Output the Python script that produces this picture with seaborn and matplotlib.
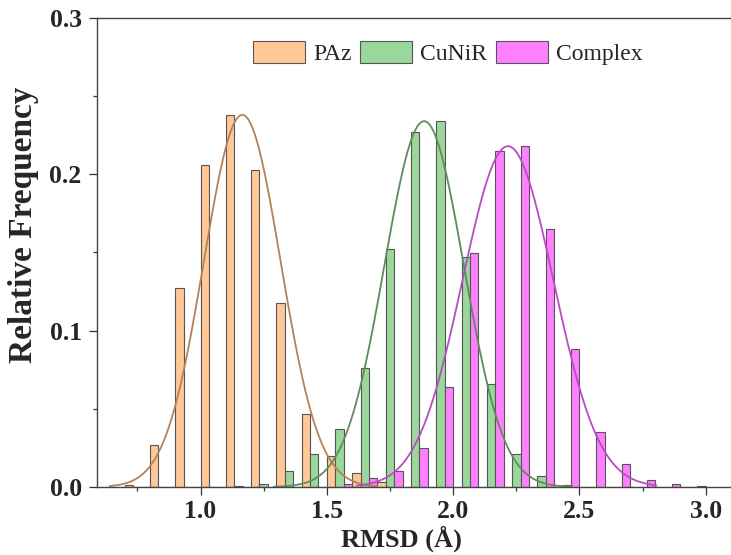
import matplotlib
matplotlib.use("Agg")
import matplotlib.pyplot as plt
from matplotlib.ticker import MultipleLocator, FormatStrFormatter
import numpy as np
import pandas as pd
import seaborn as sns

# bin left edges of the RMSD histogram (Å)
bin_left = [0.7, 0.8, 0.9, 1.0, 1.1, 1.2, 1.3, 1.4, 1.5, 1.6, 1.7, 1.8,
            1.9, 2.0, 2.1, 2.2, 2.3, 2.4, 2.5, 2.6, 2.7, 2.8, 2.9]

# relative frequencies per bin
paz = [0.001, 0.027, 0.127, 0.206, 0.238, 0.203, 0.118, 0.047, 0.020, 0.009, 0.003, 0.0,
       0.0, 0.0, 0.0, 0.0, 0.0, 0.0, 0.0, 0.0, 0.0, 0.0, 0.0]
cunir = [0.0, 0.0, 0.0, 0.0, 0.0005, 0.002, 0.010, 0.021, 0.037, 0.076, 0.152, 0.227,
         0.234, 0.147, 0.066, 0.021, 0.007, 0.001, 0.0, 0.0, 0.0, 0.0, 0.0]
complex_ = [0.0, 0.0, 0.0, 0.0, 0.0, 0.0, 0.0, 0.0, 0.002, 0.006, 0.010, 0.025,
            0.064, 0.150, 0.215, 0.218, 0.165, 0.088, 0.035, 0.015, 0.0045, 0.0017, 0.0005]

names = ["PAz", "CuNiR", "Complex"]

# gaussian fits (amplitude, centre, sigma) and the x-range each fit is drawn over
fit_amp = [0.238, 0.234, 0.218]
fit_center = [1.165, 1.885, 2.217]
fit_sigma = [0.152, 0.157, 0.180]
fit_start = [0.64, 1.29, 1.617]
fit_end = [1.70, 2.47, 2.805]

bar_colors = ["#FFC896", "#9BD79B", "#FF80FF"]
line_colors = ["#B4825A", "#5E8C5E", "#B84CC4"]

sns.set_theme(style="ticks")
plt.rcParams["font.family"] = ["Liberation Serif", "DejaVu Serif"]

hist = pd.DataFrame({
    "x": np.round(np.tile(np.array(bin_left) + 0.05, 3), 3),
    "freq": paz + cunir + complex_,
    "protein": np.repeat(names, len(bin_left)),
})

fig = plt.figure(figsize=(7.31, 5.55), dpi=100)
ax = fig.add_axes([97 / 731, 68 / 555, 634 / 731, 469 / 555])

sns.barplot(data=hist, x="x", y="freq", hue="protein", hue_order=names,
            palette=bar_colors, native_scale=True, width=1.0, dodge=True,
            edgecolor="#555555", linewidth=0.8, saturation=1, ax=ax)

# gaussian fit curves
for i, name in enumerate(names):
    xs = np.linspace(fit_start[i], fit_end[i], 300)
    ys = fit_amp[i] * np.exp(-(xs - fit_center[i]) ** 2 / (2 * fit_sigma[i] ** 2))
    sns.lineplot(x=xs, y=ys, color=line_colors[i], linewidth=1.3, ax=ax, legend=False)

ax.set_xlim(0.59, 3.1)
ax.set_ylim(0, 0.3)
ax.xaxis.set_major_locator(MultipleLocator(0.5))
ax.xaxis.set_minor_locator(MultipleLocator(0.25))
ax.yaxis.set_major_locator(MultipleLocator(0.1))
ax.yaxis.set_minor_locator(MultipleLocator(0.05))
ax.xaxis.set_major_formatter(FormatStrFormatter("%.1f"))
ax.yaxis.set_major_formatter(FormatStrFormatter("%.1f"))

ax.tick_params(axis="both", which="major", direction="out", length=6, width=0.9,
               color="#333333", labelsize=18.5, pad=3)
ax.tick_params(axis="y", which="major", pad=5)
ax.tick_params(axis="both", which="minor", direction="out", length=3, width=0.9,
               color="#333333")
for lab in ax.get_xticklabels() + ax.get_yticklabels():
    lab.set_fontweight("bold")

for side in ["left", "bottom", "top"]:
    ax.spines[side].set_color("#444444")
    ax.spines[side].set_linewidth(1.0)
ax.spines["right"].set_visible(False)

ax.set_xlabel("RMSD (Å)", fontsize=19, fontweight="bold")
ax.set_ylabel("Relative Frequency", fontsize=24, fontweight="bold")
ax.xaxis.set_label_coords(304 / 634, -0.083)
ax.yaxis.set_label_coords(-0.092, 0.559)

handles, labels = ax.get_legend_handles_labels()
ax.legend(handles[:3], labels[:3], loc="center left", bbox_to_anchor=(0.246, 0.925),
          ncol=3, frameon=False, fontsize=17, handlelength=2.2, handleheight=1.06,
          handletextpad=0.34, columnspacing=0.38, borderpad=0, borderaxespad=0)

fig.savefig("out.png", dpi=100)
